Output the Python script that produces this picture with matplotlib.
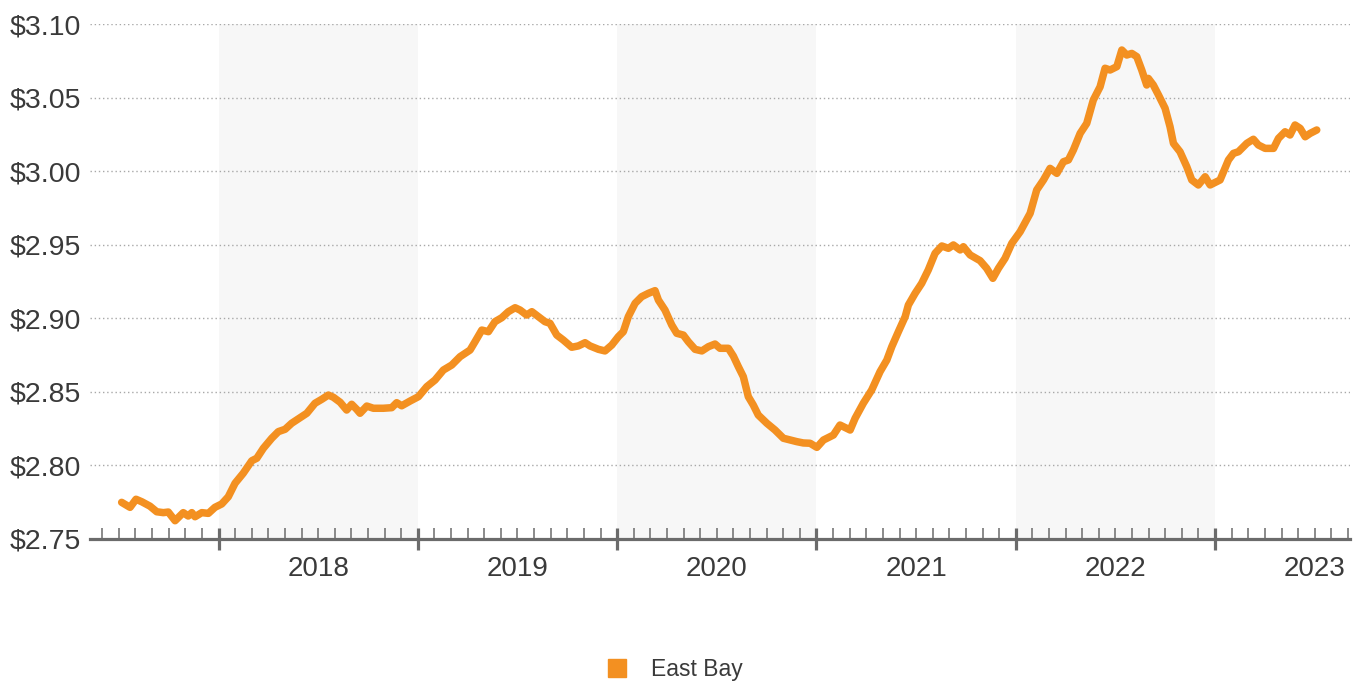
import matplotlib
matplotlib.use("Agg")
import matplotlib.pyplot as plt
from matplotlib.patches import Patch
from matplotlib.ticker import FixedLocator, NullFormatter

plt.rcParams['font.family'] = ['Liberation Sans', 'DejaVu Sans']

# 0. Data (dates as decimal years)
years = [2017.514, 2017.556, 2017.586, 2017.615, 2017.656, 2017.690, 2017.723, 2017.748, 2017.782, 2017.823,
         2017.848, 2017.866, 2017.882, 2017.916, 2017.949, 2017.982, 2018.016, 2018.049, 2018.083, 2018.124,
         2018.167, 2018.192, 2018.225, 2018.267, 2018.300, 2018.334, 2018.367, 2018.409, 2018.443, 2018.484,
         2018.518, 2018.551, 2018.576, 2018.610, 2018.643, 2018.668, 2018.693, 2018.710, 2018.744, 2018.777,
         2018.827, 2018.869, 2018.894, 2018.919, 2018.961, 2019.003, 2019.045, 2019.086, 2019.128, 2019.170,
         2019.212, 2019.262, 2019.287, 2019.321, 2019.354, 2019.387, 2019.421, 2019.454, 2019.488, 2019.513,
         2019.546, 2019.572, 2019.605, 2019.638, 2019.663, 2019.697, 2019.730, 2019.772, 2019.805, 2019.839,
         2019.864, 2019.906, 2019.939, 2019.973, 2020.006, 2020.031, 2020.056, 2020.090, 2020.123, 2020.157,
         2020.190, 2020.207, 2020.240, 2020.274, 2020.299, 2020.332, 2020.357, 2020.391, 2020.425, 2020.458,
         2020.491, 2020.516, 2020.558, 2020.583, 2020.608, 2020.633, 2020.658, 2020.683, 2020.708, 2020.751,
         2020.792, 2020.834, 2020.868, 2020.901, 2020.934, 2020.968, 2021.002, 2021.035, 2021.085, 2021.118,
         2021.169, 2021.194, 2021.235, 2021.277, 2021.319, 2021.353, 2021.378, 2021.411, 2021.445, 2021.461,
         2021.495, 2021.528, 2021.561, 2021.595, 2021.629, 2021.662, 2021.687, 2021.721, 2021.737, 2021.771,
         2021.821, 2021.854, 2021.885, 2021.913, 2021.946, 2021.980, 2022.022, 2022.072, 2022.105, 2022.139,
         2022.172, 2022.206, 2022.239, 2022.264, 2022.289, 2022.323, 2022.356, 2022.389, 2022.423, 2022.448,
         2022.473, 2022.507, 2022.532, 2022.557, 2022.582, 2022.607, 2022.632, 2022.657, 2022.665, 2022.690,
         2022.716, 2022.749, 2022.774, 2022.791, 2022.824, 2022.858, 2022.883, 2022.916, 2022.950, 2022.975,
         2023.025, 2023.067, 2023.092, 2023.117, 2023.159, 2023.192, 2023.217, 2023.251, 2023.293, 2023.318,
         2023.351, 2023.376, 2023.401, 2023.427, 2023.452, 2023.477, 2023.510]

prices = [2.7746, 2.7712, 2.7767, 2.7750, 2.7720, 2.7682, 2.7676, 2.7680, 2.7621, 2.7676,
          2.7653, 2.7676, 2.7648, 2.7676, 2.7671, 2.7712, 2.7735, 2.7784, 2.7876, 2.7944,
          2.8029, 2.8046, 2.8114, 2.8182, 2.8227, 2.8243, 2.8284, 2.8322, 2.8352, 2.8420,
          2.8447, 2.8476, 2.8461, 2.8427, 2.8374, 2.8413, 2.8379, 2.8352, 2.8401, 2.8386,
          2.8386, 2.8390, 2.8424, 2.8403, 2.8435, 2.8465, 2.8533, 2.8578, 2.8646, 2.8680,
          2.8737, 2.8782, 2.8839, 2.8918, 2.8907, 2.8975, 2.9002, 2.9043, 2.9070, 2.9054,
          2.9020, 2.9043, 2.9009, 2.8975, 2.8964, 2.8884, 2.8850, 2.8801, 2.8810, 2.8832,
          2.8810, 2.8787, 2.8776, 2.8816, 2.8873, 2.8907, 2.9009, 2.9100, 2.9145, 2.9168,
          2.9186, 2.9122, 2.9054, 2.8952, 2.8896, 2.8884, 2.8839, 2.8787, 2.8776, 2.8805,
          2.8823, 2.8794, 2.8794, 2.8741, 2.8669, 2.8601, 2.8465, 2.8408, 2.8340, 2.8284,
          2.8238, 2.8182, 2.8170, 2.8159, 2.8150, 2.8148, 2.8120, 2.8170, 2.8204, 2.8272,
          2.8238, 2.8318, 2.8420, 2.8510, 2.8635, 2.8714, 2.8805, 2.8907, 2.9009, 2.9088,
          2.9168, 2.9236, 2.9327, 2.9440, 2.9490, 2.9474, 2.9497, 2.9463, 2.9485, 2.9429,
          2.9390, 2.9338, 2.9270, 2.9338, 2.9406, 2.9508, 2.9587, 2.9712, 2.9871, 2.9939,
          3.0018, 2.9984, 3.0063, 3.0075, 3.0143, 3.0256, 3.0324, 3.0483, 3.0573, 3.0699,
          3.0687, 3.0710, 3.0823, 3.0789, 3.0800, 3.0778, 3.0687, 3.0585, 3.0630, 3.0585,
          3.0517, 3.0427, 3.0301, 3.0188, 3.0131, 3.0029, 2.9939, 2.9905, 2.9961, 2.9905,
          2.9939, 3.0075, 3.0120, 3.0131, 3.0188, 3.0216, 3.0177, 3.0154, 3.0154, 3.0222,
          3.0267, 3.0245, 3.0313, 3.0290, 3.0233, 3.0256, 3.0279]

series_label = 'East Bay'
year_labels = [2018, 2019, 2020, 2021, 2022, 2023]
shaded_years = [2018, 2020, 2022]
y_ticks = [2.75, 2.80, 2.85, 2.90, 2.95, 3.00, 3.05, 3.10]

LINE_COLOR = '#F39021'
TEXT_COLOR = '#3a3a3a'
AXIS_COLOR = '#6b6b6b'

# 1. Figure
fig = plt.figure(figsize=(13.59, 6.82), dpi=100)
ax = fig.add_axes([0.0662, 0.2104, 0.9272, 0.7544])

for yr in shaded_years:
    ax.axvspan(yr, yr + 1, color='#f7f7f7', zorder=0, lw=0)

ax.plot(years, prices, color=LINE_COLOR, lw=5.4, solid_joinstyle='round',
        solid_capstyle='round', zorder=3)

ax.set_xlim(2017.355, 2023.677)
ax.set_ylim(2.75, 3.10)

# y axis
ax.set_yticks(y_ticks)
ax.set_yticklabels(['${:.2f}'.format(v) for v in y_ticks])
ax.tick_params(axis='y', length=0, pad=6.5, labelsize=20.5, labelcolor=TEXT_COLOR)
ax.yaxis.grid(True, color='#a8a8a8', linestyle=(0, (1, 2)), linewidth=1.0, zorder=1)

# x axis: year boundaries as major ticks, months as minor
majors = list(range(2018, 2024))
months = [y + m / 12 for y in range(2017, 2024) for m in range(1, 12)
          if 2017.355 < y + m / 12 < 2023.677]
ax.xaxis.set_major_locator(FixedLocator(majors))
ax.xaxis.set_minor_locator(FixedLocator(months))
ax.xaxis.set_major_formatter(NullFormatter())
ax.tick_params(axis='x', which='major', direction='inout', length=16, width=2.3, color=AXIS_COLOR)
ax.tick_params(axis='x', which='minor', direction='in', length=8, width=1.1, color=AXIS_COLOR)

for yr in year_labels:
    ax.text(yr + 0.5, -0.06, str(yr), transform=ax.get_xaxis_transform(),
            ha='center', va='center', fontsize=20, color=TEXT_COLOR)

for side in ['top', 'right', 'left']:
    ax.spines[side].set_visible(False)
ax.spines['bottom'].set_color(AXIS_COLOR)
ax.spines['bottom'].set_linewidth(2.3)
ax.spines['bottom'].set_zorder(4)

# legend
fig.legend(handles=[Patch(color=LINE_COLOR, label=series_label)],
           loc='center', bbox_to_anchor=(0.497, 0.018), frameon=False,
           handlelength=0.8, handleheight=0.8, handletextpad=1.1,
           fontsize=16.5, labelcolor=TEXT_COLOR)

fig.savefig('out.png', dpi=100)
